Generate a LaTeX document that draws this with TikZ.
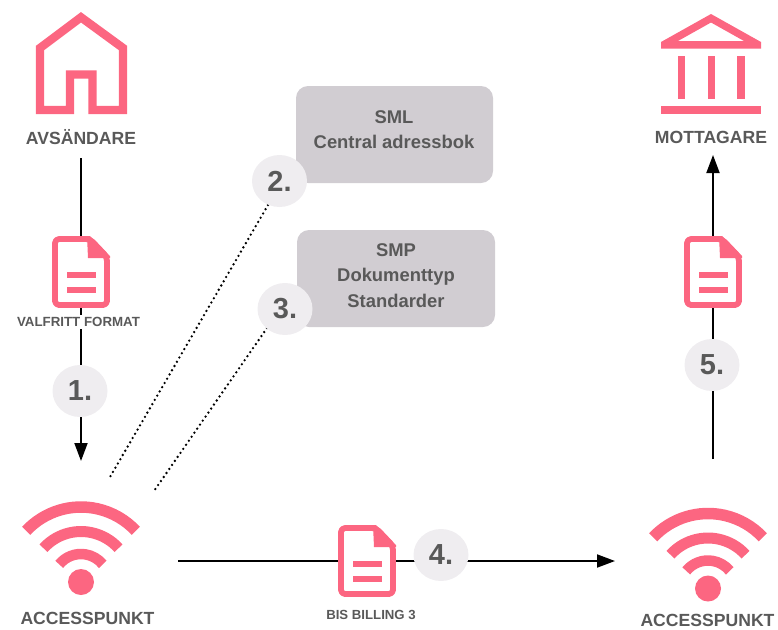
\documentclass[tikz,border=0pt]{standalone}
\usepackage{fontspec}
\setmainfont{Liberation Sans}
\usetikzlibrary{arrows.meta,shapes.geometric}
\definecolor{pinkc}{HTML}{FC6681}
\definecolor{boxc}{HTML}{D1CDD2}
\definecolor{circc}{HTML}{EFEDF0}
\definecolor{textc}{HTML}{595959}
\tikzset{
  lbl/.style={text=textc,font=\bfseries\fontsize{#1}{#1}\selectfont,inner sep=0pt,align=center},
  lbl/.default=17.6,
  infobox/.style={fill=boxc,rounded corners=12pt,draw=none,minimum width=#1,minimum height=97pt,inner sep=0pt},
  boxtext/.style={text=textc,align=center,inner sep=0pt,font=\bfseries\fontsize{18.4}{25.5}\selectfont},
  stepnum/.style={fill=circc,shape=ellipse,minimum width=55pt,minimum height=52pt,text=textc,font=\bfseries\fontsize{29}{29}\selectfont,inner sep=0pt},
  conn/.style={line width=1.9pt,black},
  arrowconn/.style={conn,-{Triangle[length=18pt,width=13pt]}},
  dots/.style={line width=2.6pt,black,line cap=round,dash pattern=on 0pt off 4.9pt},
  pinkline/.style={draw=pinkc,line width=#1,line cap=butt},
  wifi/.pic={
    \fill[pinkc] (0,0) circle[radius=13pt];
    \draw[pinkline=11.5pt] (137:75pt) arc[start angle=137,end angle=43,radius=75pt];
    \draw[pinkline=11pt] (138:50.5pt) arc[start angle=138,end angle=42,radius=50.5pt];
    \draw[pinkline=10.5pt] (141:28pt) arc[start angle=141,end angle=39,radius=28pt];
  },
  docicon/.pic={
    \draw[pinkline=5.8pt,fill=white,line join=round,rounded corners=4pt] (3,3) -- (38,3) -- (55,21) -- (55,69) -- (3,69) -- cycle;
    \fill[pinkc] (35,0) -- (38,0) -- (58,20) -- (58,22) -- (36,22) -- cycle;
    \fill[pinkc] (14.5,36.3) rectangle (44,41.7);
    \fill[pinkc] (14.5,51.3) rectangle (44,57);
  },
}
\begin{document}
\begin{tikzpicture}[x=1pt,y=-1pt]
\useasboundingbox (0,0) rectangle (778,629);
% coordinates for connector ends
\coordinate (a1) at (81,158);
\coordinate (a2) at (81,461);
\coordinate (b1) at (713,459);
\coordinate (b2) at (713,155);
\coordinate (c1) at (178,561);
\coordinate (c2) at (615,561);
\coordinate (d1) at (268,205);
\coordinate (d2) at (110,477);
\coordinate (e1) at (267,328);
\coordinate (e2) at (154,491);
\draw[arrowconn] (a1) -- (a2);
\draw[arrowconn] (b1) -- (b2);
\draw[arrowconn] (c1) -- (c2);
\draw[dots] (d1) -- (d2);
\draw[dots] (e1) -- (e2);
% house
\draw[pinkline=8.4pt,miter limit=10] (70,110) -- (70,74.5) -- (92.5,74.5) -- (92.5,110) -- (123,110) -- (123,48) -- (81,17.3) -- (40,48) -- (40,110) -- cycle;
\node[lbl] (avs) at (81,137) {AVSÄNDARE};
% bank
\fill[pinkc,even odd rule] (711,14) -- (761,42) -- (761,48.5) -- (661,48.5) -- (661,42) -- cycle (711,22.5) -- (678,41) -- (744,41) -- cycle;
\fill[pinkc] (677.7,56) rectangle (685,98.5);
\fill[pinkc] (707.5,56) rectangle (715,98.5);
\fill[pinkc] (737,56) rectangle (744.7,98.5);
\fill[pinkc] (661,106) rectangle (761,113.5);
\node[lbl] (mott) at (711,137) {MOTTAGARE};
% documents
\pic at (52,236) {docicon};
\pic at (684,236) {docicon};
\pic at (338,525) {docicon};
\node[lbl=13.3,fill=white,inner xsep=1pt,inner ysep=2pt] (valf) at (78.5,322) {VALFRITT FORMAT};
\node[lbl=13.2] (bis) at (371,615) {BIS BILLING 3};
% boxes
\node[infobox=197pt] (sml) at (394.5,134.5) {};
\node[boxtext] (smlt) at (394,129.5) {SML\\Central adressbok};
\node[infobox=198pt] (smp) at (396,278.5) {};
\node[boxtext] (smpt) at (396,275.5) {SMP\\Dokumenttyp\\Standarder};
% numbered circles
\node[stepnum] (n1) at (80,391) {1.};
\node[stepnum] (n2) at (279.5,181) {2.};
\node[stepnum] (n3) at (285,309) {3.};
\node[stepnum] (n4) at (441,555) {4.};
\node[stepnum] (n5) at (712,365) {5.};
% wifi
\pic at (81,582) {wifi};
\pic at (708,588.5) {wifi};
\node[lbl] (ap1) at (87.5,618) {ACCESSPUNKT};
\node[lbl] (ap2) at (707.5,620.5) {ACCESSPUNKT};
\end{tikzpicture}
\end{document}
